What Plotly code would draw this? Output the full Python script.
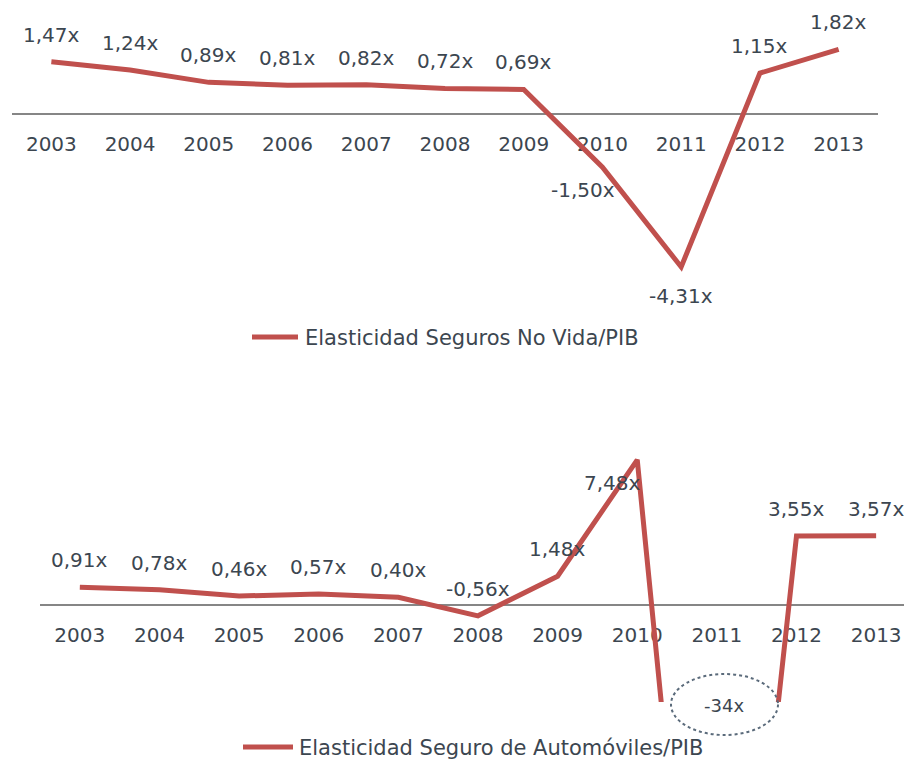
import plotly.graph_objects as go

# datos
years = ['2003', '2004', '2005', '2006', '2007', '2008', '2009', '2010', '2011', '2012', '2013']
no_vida = [1.47, 1.24, 0.89, 0.81, 0.82, 0.72, 0.69, -1.50, -4.31, 1.15, 1.82]
autos = [0.91, 0.78, 0.46, 0.57, 0.40, -0.56, 1.48, 7.48, -34.0, 3.55, 3.57]
names = ['Elasticidad Seguros No Vida/PIB', 'Elasticidad Seguro de Automóviles/PIB']

RED = '#c0504d'
TXT = '#3c4650'
FONT = 'DejaVu Sans'

W, H = 904, 760


def px(x):
    return x / W


def py(y):
    return 1 - y / H


def fmt(v):
    return f'{v:.2f}'.replace('.', ',') + 'x'


fig = go.Figure()

fig.add_trace(go.Scatter(x=years, y=no_vida, mode='lines', name=names[0],
                         line=dict(color=RED, width=5), xaxis='x', yaxis='y'))
fig.add_trace(go.Scatter(x=years, y=autos, mode='lines', name=names[1],
                         line=dict(color=RED, width=5), xaxis='x2', yaxis='y2'))

# etiquetas de datos (desplazamientos en px)
shift_top = {'2010': (-19, -23), '2011': (0, -29)}
shift_bot = {'2010': (-25, -23)}

ann = []
for i, (yr, v) in enumerate(zip(years, no_vida)):
    dx, dy = shift_top.get(yr, (0, 27))
    ann.append(dict(x=i, y=v, xref='x', yref='y', text=fmt(v), showarrow=False,
                    xshift=dx, yshift=dy, font=dict(size=20, color=TXT, family=FONT)))
for i, (yr, v) in enumerate(zip(years, autos)):
    if yr == '2011':
        continue
    dx, dy = shift_bot.get(yr, (0, 27))
    ann.append(dict(x=i, y=v, xref='x2', yref='y2', text=fmt(v), showarrow=False,
                    xshift=dx, yshift=dy, font=dict(size=20, color=TXT, family=FONT)))

# valor fuera de escala de 2011
ann.append(dict(x=px(724), y=py(705), xref='paper', yref='paper', text='-34x', showarrow=False,
                xanchor='center', yanchor='middle',
                font=dict(size=18, color=TXT, family=FONT)))

shapes = [dict(type='circle', xref='paper', yref='paper',
               x0=px(671), x1=px(778), y0=py(735), y1=py(674),
               line=dict(color='#5b6b7b', width=2, dash='dot'))]

# leyendas (línea larga como en el original)
for name, (x0, x1, xt, yl) in zip(names, [(252, 298, 303, 337), (243, 293, 297, 747)]):
    shapes.append(dict(type='line', xref='paper', yref='paper', x0=px(x0), x1=px(x1),
                       y0=py(yl), y1=py(yl), line=dict(color=RED, width=5)))
    ann.append(dict(x=px(xt), y=py(yl + 1), xref='paper', yref='paper', text=name, showarrow=False,
                    xanchor='left', yanchor='middle', font=dict(size=21, color=TXT, family=FONT)))

axis_x = dict(type='category', showgrid=False, zeroline=False, showline=True,
              linecolor='#868686', linewidth=2, ticks='', ticklabelstandoff=12,
              tickfont=dict(size=20, color=TXT, family=FONT), layer='below traces',
              fixedrange=True, anchor='free')

fig.update_layout(
    width=W, height=H,
    margin=dict(l=0, r=0, t=0, b=0),
    paper_bgcolor='white', plot_bgcolor='white',
    font=dict(family=FONT, color=TXT),
    xaxis=dict(axis_x, domain=[px(12), px(878)], range=[-0.5, 10.5], position=py(114)),
    yaxis=dict(domain=[py(290), 1], range=[-4.96, 3.21], visible=False),
    xaxis2=dict(axis_x, domain=[px(40), 1], range=[-0.5, 10.35], position=py(605)),
    yaxis2=dict(domain=[py(702), py(440)], range=[-5.0, 8.5], visible=False),
    annotations=ann,
    shapes=shapes,
    showlegend=False,
)

# sin el margen por defecto del body
fig.write_html('out.html', config={'displayModeBar': False},
               post_script="document.body.style.margin='0';")
